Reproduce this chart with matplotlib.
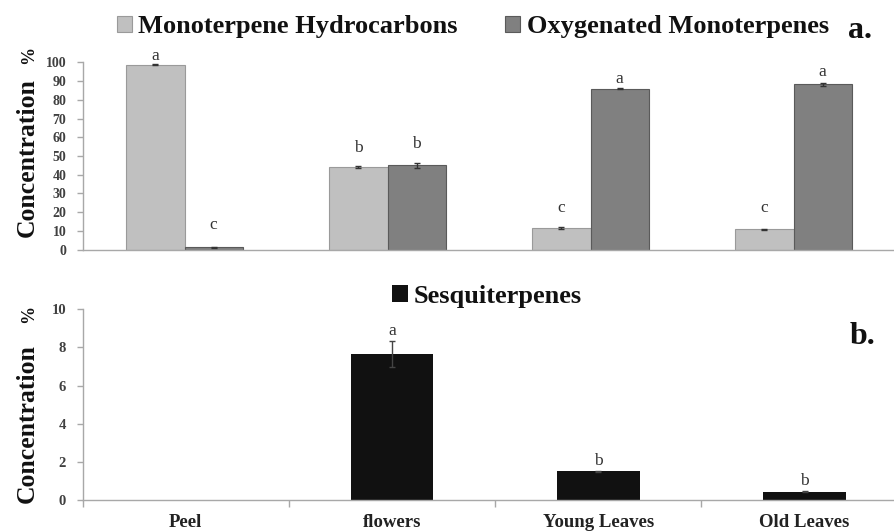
import matplotlib
matplotlib.use("Agg")
import matplotlib.pyplot as plt
import numpy as np

# ---- data ----
categories = ["Peel", "flowers", "Young Leaves", "Old Leaves"]
mono_hc = [98.8, 44.0, 11.6, 10.8]
mono_hc_err = [0.3, 0.5, 0.3, 0.4]
oxy_mono = [1.4, 45.0, 86.0, 88.2]
oxy_mono_err = [0.3, 1.5, 0.3, 1.0]
mono_hc_letters = ["a", "b", "c", "c"]
oxy_mono_letters = ["c", "b", "a", "a"]
sesq = [0.0, 7.65, 1.5, 0.44]
sesq_err = [0.0, 0.68, 0.04, 0.03]
sesq_letters = ["", "a", "b", "b"]
top_ticks = list(range(0, 101, 10))
bottom_ticks = [0, 2, 4, 6, 8, 10]

plt.rcParams['font.family'] = ['Liberation Serif', 'DejaVu Serif']

W, H = 894, 532
fig = plt.figure(figsize=(W / 100, H / 100), dpi=100)
fig.patch.set_facecolor("white")

ax1 = fig.add_axes([83 / W, 1 - 249.7 / H, 812 / W, 187.4 / H])
ax2 = fig.add_axes([82.7 / W, 1 - 500 / H, 825 / W, 190.7 / H])

spine_col = "#a8a8a8"
tick_col = "#404040"
x = np.arange(len(categories))
bw = 0.286

b1 = ax1.bar(x - bw / 2, mono_hc, bw, color="#c0c0c0", edgecolor="#9a9a9a", linewidth=0.8,
             label="Monoterpene Hydrocarbons")
b2 = ax1.bar(x + bw / 2, oxy_mono, bw, color="#808080", edgecolor="#5a5a5a", linewidth=0.8,
             label="Oxygenated Monoterpenes")
ax1.errorbar(x - bw / 2, mono_hc, yerr=mono_hc_err, fmt="none", ecolor="#333333",
             elinewidth=1, capsize=2.5, capthick=1)
ax1.errorbar(x + bw / 2, oxy_mono, yerr=oxy_mono_err, fmt="none", ecolor="#333333",
             elinewidth=1, capsize=2.5, capthick=1)

letter_pad_hc = [9, 19, 20, 21]
letter_pad_om = [22, 21, 10, 12]
for xi, v, lt, p in zip(x - bw / 2, mono_hc, mono_hc_letters, letter_pad_hc):
    ax1.annotate(lt, (xi, v), xytext=(0, p * 0.72), textcoords="offset points",
                 ha="center", va="center", fontsize=12.5, color="#333333")
for xi, v, lt, p in zip(x + bw / 2, oxy_mono, oxy_mono_letters, letter_pad_om):
    ax1.annotate(lt, (xi, v), xytext=(0, p * 0.72), textcoords="offset points",
                 ha="center", va="center", fontsize=12.5, color="#333333")

ax1.set_xlim(-0.5, len(categories) - 0.5)
ax1.set_ylim(0, 100)
ax1.set_yticks(top_ticks)
ax1.set_xticks([])

bw2 = 0.4
b3 = ax2.bar(x, sesq, bw2, color="#111111", edgecolor="none", linewidth=0,
             label="Sesquiterpenes")
ax2.errorbar(x[1:], sesq[1:], yerr=sesq_err[1:], fmt="none", ecolor="#444444",
             elinewidth=1, capsize=2.5, capthick=1)
for xi, v, e, lt in zip(x, sesq, sesq_err, sesq_letters):
    if lt:
        ax2.annotate(lt, (xi, v + e), xytext=(0, 7), textcoords="offset points",
                     ha="center", va="center", fontsize=12.5, color="#333333")
ax2.set_xlim(-0.5, len(categories) - 0.5)
ax2.set_ylim(0, 10)
ax2.set_yticks(bottom_ticks)
ax2.set_xticks(x)
ax2.set_xticklabels(categories)
ax2.set_xticks(np.arange(-0.5, len(categories), 1.0), minor=True)
ax2.tick_params(axis="x", which="major", length=0, pad=10, labelsize=13.5, labelcolor="#222222")
ax2.tick_params(axis="x", which="minor", length=5, color=spine_col, width=1)
for lab in ax2.get_xticklabels():
    lab.set_fontweight("bold")

for ax, fs in ((ax1, 10), (ax2, 10.5)):
    for s in ("top", "right"):
        ax.spines[s].set_visible(False)
    for s in ("left", "bottom"):
        ax.spines[s].set_color(spine_col)
        ax.spines[s].set_linewidth(1)
    ax.tick_params(axis="y", length=4, color=spine_col, width=1, pad=8,
                   labelsize=fs, labelcolor=tick_col)
    for lab in ax.get_yticklabels():
        lab.set_fontweight("bold")

# y labels
for yc, yp in ((158, 55), (424, 314)):
    fig.text(27 / W, 1 - yc / H, "Concentration", rotation=90, ha="center", va="center",
             fontsize=18.5, fontweight="bold", color="#111111")
    fig.text(29 / W, 1 - yp / H, "%", rotation=90, ha="center", va="center",
             fontsize=13, fontweight="bold", color="#111111")

leg_prop = dict(family="Liberation Serif", weight="bold", size=19)
fig.legend([b1, b2], ["Monoterpene Hydrocarbons", "Oxygenated Monoterpenes"],
           loc="center", bbox_to_anchor=(473 / W, 1 - 27 / H), ncol=2, frameon=False,
           prop=leg_prop, handlelength=0.55, handleheight=0.55, handletextpad=0.25,
           columnspacing=1.8, borderpad=0, labelcolor="#111111")
fig.legend([b3], ["Sesquiterpenes"], loc="center", bbox_to_anchor=(487 / W, 1 - 296 / H),
           frameon=False, prop=leg_prop, handlelength=0.6, handleheight=0.6,
           handletextpad=0.2, borderpad=0, labelcolor="#111111")

fig.text(860 / W, 1 - 30 / H, "a.", ha="center", va="center", fontsize=23,
         fontweight="bold", color="#111111")
fig.text(862 / W, 1 - 336 / H, "b.", ha="center", va="center", fontsize=23,
         fontweight="bold", color="#111111")

fig.savefig("out.png", dpi=100, facecolor="white")
